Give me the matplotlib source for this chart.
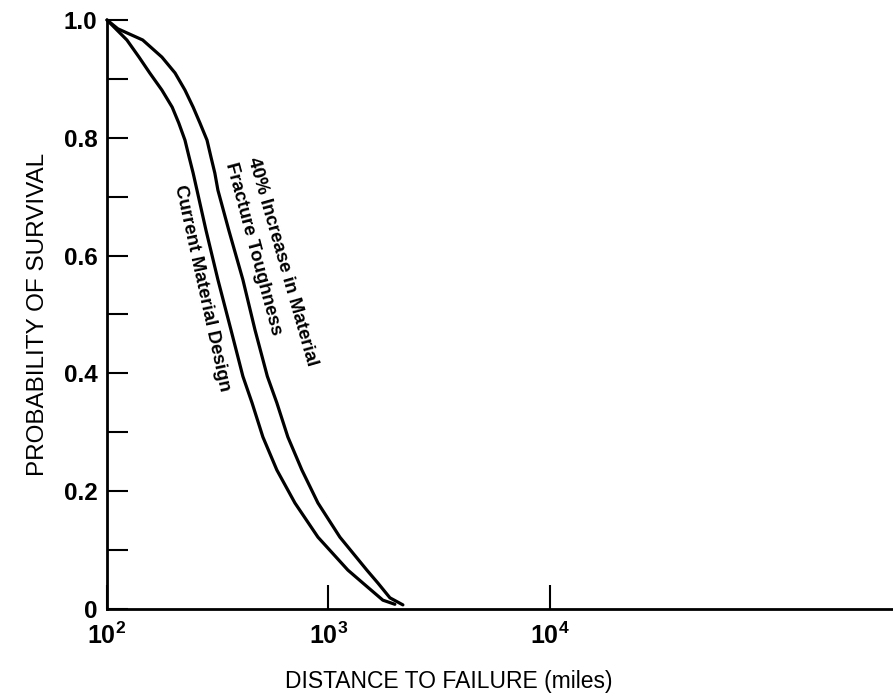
import numpy as np
import matplotlib.pyplot as plt
from matplotlib.ticker import FixedLocator, FixedFormatter, NullLocator

plt.rcParams['font.family'] = ['Liberation Sans', 'DejaVu Sans']
plt.rcParams['mathtext.fontset'] = 'custom'
plt.rcParams['mathtext.rm'] = 'Liberation Sans'
plt.rcParams['mathtext.bf'] = 'Liberation Sans:bold'

# current material design (distance in miles, probability of survival)
current_miles = [100, 123, 139.5, 156, 177, 197, 211, 225, 235, 245, 255, 280, 317,
                 363, 411, 452, 506, 585, 706, 897, 1225, 1432, 1762, 1996]
current_prob = [1.0, 0.966, 0.937, 0.910, 0.881, 0.852, 0.825, 0.796, 0.767, 0.740,
                0.711, 0.643, 0.559, 0.474, 0.395, 0.350, 0.292, 0.236, 0.180, 0.122,
                0.066, 0.044, 0.015, 0.008]

# 40% increase in material fracture toughness
tough_miles = [100, 112, 145, 177, 203, 225, 245, 263, 283, 295, 307, 317, 355, 411,
               466, 530, 585, 656, 759, 897, 1127, 1492, 1674, 1896, 2170]
tough_prob = [1.0, 0.985, 0.966, 0.937, 0.910, 0.881, 0.852, 0.825, 0.796, 0.767,
              0.740, 0.711, 0.643, 0.559, 0.474, 0.395, 0.350, 0.292, 0.236, 0.180,
              0.122, 0.066, 0.044, 0.019, 0.007]

x_ticks = [1e2, 1e3, 1e4]
x_labels = [r'$\mathbf{10^{2}}$', r'$\mathbf{10^{3}}$', r'$\mathbf{10^{4}}$']
y_ticks = [0, 0.2, 0.4, 0.6, 0.8, 1.0]
y_labels = ['0', '0.2', '0.4', '0.6', '0.8', '1.0']
y_minor = [0.1, 0.3, 0.5, 0.7, 0.9]

fig = plt.figure(figsize=(8.93, 6.96), dpi=100)
ax = fig.add_axes([0.1198, 0.125, 0.8802, 0.8463])

ax.plot(current_miles, current_prob, color='black', lw=2.3, clip_on=False,
        solid_joinstyle='round', solid_capstyle='round')
ax.plot(tough_miles, tough_prob, color='black', lw=2.3, clip_on=False,
        solid_joinstyle='round', solid_capstyle='round')

ax.set_xscale('log')
ax.set_xlim(1e2, 10 ** 5.55)
ax.set_ylim(0, 1.0)

ax.xaxis.set_major_locator(FixedLocator(x_ticks))
ax.xaxis.set_major_formatter(FixedFormatter(x_labels))
ax.xaxis.set_minor_locator(NullLocator())
ax.yaxis.set_major_locator(FixedLocator(y_ticks))
ax.yaxis.set_major_formatter(FixedFormatter(y_labels))
ax.yaxis.set_minor_locator(FixedLocator(y_minor))

ax.tick_params(axis='x', which='major', direction='in', length=17, width=1.5,
               labelsize=18, pad=10)
ax.tick_params(axis='y', which='both', direction='in', length=15, width=1.5,
               labelsize=17.5, pad=7)
for lab in ax.get_yticklabels():
    lab.set_fontweight('bold')

for side in ['top', 'right']:
    ax.spines[side].set_visible(False)
for side in ['left', 'bottom']:
    ax.spines[side].set_linewidth(2.0)

ax.set_xlabel('DISTANCE TO FAILURE (miles)', fontsize=16.5)
ax.set_ylabel('PROBABILITY OF SURVIVAL', fontsize=17.5)
ax.xaxis.set_label_coords(0.435, -0.104)
ax.yaxis.set_label_coords(-0.074, 0.5)

# curve labels along the lines
ax.text(10 ** (2 + (202 - 107) / 221.5), (609 - 288) / 589, 'Current Material Design',
        rotation=-77.6, ha='center', va='center', fontsize=13.5, fontweight='bold')
ax.text(10 ** (2 + (282 - 107) / 221.5), (609 - 262) / 589, '40% Increase in Material',
        rotation=-74, ha='center', va='center', fontsize=13.5, fontweight='bold')
ax.text(10 ** (2 + (253 - 107) / 221.5), (609 - 249) / 589, 'Fracture Toughness',
        rotation=-75, ha='center', va='center', fontsize=13.5, fontweight='bold')

plt.savefig('out.png', dpi=100)
